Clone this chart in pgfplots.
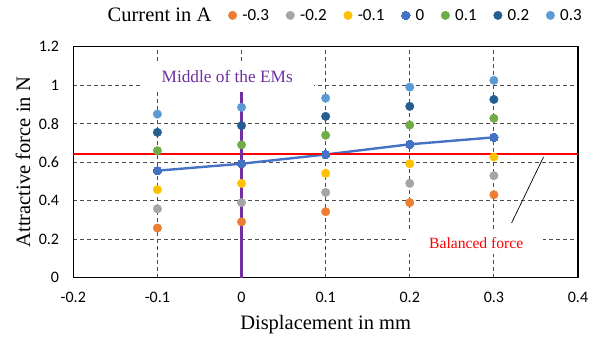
\documentclass[border=0pt]{standalone}
\usepackage{fontspec}
\setmainfont{Liberation Serif}
\setsansfont{Carlito}
\usepackage{pgfplots}
\pgfplotsset{compat=1.18}
\definecolor{cmA}{HTML}{ED7D31}
\definecolor{cmB}{HTML}{A5A5A5}
\definecolor{cmC}{HTML}{FFC000}
\definecolor{cZ}{HTML}{4472C4}
\definecolor{cpA}{HTML}{70AD47}
\definecolor{cpB}{HTML}{255E91}
\definecolor{cpC}{HTML}{5B9BD5}
\definecolor{purpEM}{HTML}{7030A0}
\begin{document}
\begin{tikzpicture}
\useasboundingbox (0,0) rectangle (600pt,339pt);
\begin{axis}[
  at={(73.3pt,61.3pt)}, anchor=south west,
  scale only axis, width=504.7pt, height=231pt,
  xmin=-0.2, xmax=0.4, ymin=0, ymax=1.2,
  xtick={-0.2,-0.1,0,0.1,0.2,0.3,0.4},
  xticklabels={-0.2,-0.1,0,0.1,0.2,0.3,0.4},
  ytick={0,0.2,0.4,0.6,0.8,1,1.2},
  yticklabels={0,0.2,0.4,0.6,0.8,1,1.2},
  major tick length=0pt,
  grid=major,
  major grid style={dash pattern=on 4pt off 3pt, line width=1pt, color=black!70},
  axis line style={line width=1.5pt, black},
  tick label style={font=\sffamily\fontsize{16}{18}\selectfont, inner sep=0pt},
  xticklabel style={yshift=-14pt},
  yticklabel style={xshift=-14pt},
  xlabel={Displacement in mm},
  ylabel={Attractive force in N},
  label style={font=\rmfamily\fontsize{20.5}{24}\selectfont},
  xlabel style={at={(0.5,-0.2048)}, anchor=center},
  ylabel style={at={(-0.0997,0.5)}, anchor=center},
  legend columns=8,
  legend style={at={(0.0569,1.1355)}, anchor=west, draw=none, fill=none, inner sep=0pt,
    font=\sffamily\fontsize{17}{19}\selectfont,
    /tikz/every odd column/.append style={column sep=3.5pt},
    /tikz/every even column/.append style={column sep=15pt}},
  legend image code/.code={\draw[#1] plot coordinates {(0pt,0pt)};},
  every axis plot/.append style={mark=*, mark size=4.25pt},
]
\addlegendimage{empty legend}
\addlegendentry{\rmfamily\fontsize{20.5}{24}\selectfont Current in A}
\addplot[only marks, color=cmA, mark options={fill=cmA, draw=cmA}] coordinates {(-0.1,0.258) (0,0.29) (0.1,0.343) (0.2,0.39) (0.3,0.431)};
\addlegendentry{-0.3}
\addplot[only marks, color=cmB, mark options={fill=cmB, draw=cmB}] coordinates {(-0.1,0.358) (0,0.39) (0.1,0.443) (0.2,0.49) (0.3,0.53)};
\addlegendentry{-0.2}
\addplot[only marks, color=cmC, mark options={fill=cmC, draw=cmC}] coordinates {(-0.1,0.457) (0,0.49) (0.1,0.542) (0.2,0.592) (0.3,0.627)};
\addlegendentry{-0.1}
\addplot[color=cZ, line width=2.4pt, mark options={fill=cZ, draw=cZ, line width=0pt}] coordinates {(-0.1,0.556) (0,0.592) (0.1,0.64) (0.2,0.693) (0.3,0.729)};
\addlegendentry{0}
\addplot[only marks, color=cpA, mark options={fill=cpA, draw=cpA}] coordinates {(-0.1,0.66) (0,0.69) (0.1,0.74) (0.2,0.793) (0.3,0.828)};
\addlegendentry{0.1}
\addplot[only marks, color=cpB, mark options={fill=cpB, draw=cpB}] coordinates {(-0.1,0.755) (0,0.79) (0.1,0.838) (0.2,0.89) (0.3,0.926)};
\addlegendentry{0.2}
\addplot[only marks, color=cpC, mark options={fill=cpC, draw=cpC}] coordinates {(-0.1,0.85) (0,0.885) (0.1,0.933) (0.2,0.99) (0.3,1.025)};
\addlegendentry{0.3}
\addplot[red, line width=1.8pt, mark=none, forget plot] coordinates {(-0.2,0.643) (0.4,0.643)};
\addplot[draw=purpEM, line width=2.2pt, mark=none, forget plot] coordinates {(0,0) (0,0.966)};
\addplot[black, line width=0.7pt, mark=none, forget plot] coordinates {(0.321,0.284) (0.359,0.627)};
\node[fill=white, inner xsep=21pt, inner ysep=7pt, text=purpEM, font=\rmfamily\fontsize{17.3}{20}\selectfont] at (axis cs:-0.017,1.044) {Middle of the EMs};
\node[fill=white, inner xsep=20pt, inner ysep=5pt, text=red, font=\rmfamily\fontsize{15.6}{18}\selectfont] at (axis cs:0.279,0.18) {Balanced force};
\end{axis}
\end{tikzpicture}
\end{document}
